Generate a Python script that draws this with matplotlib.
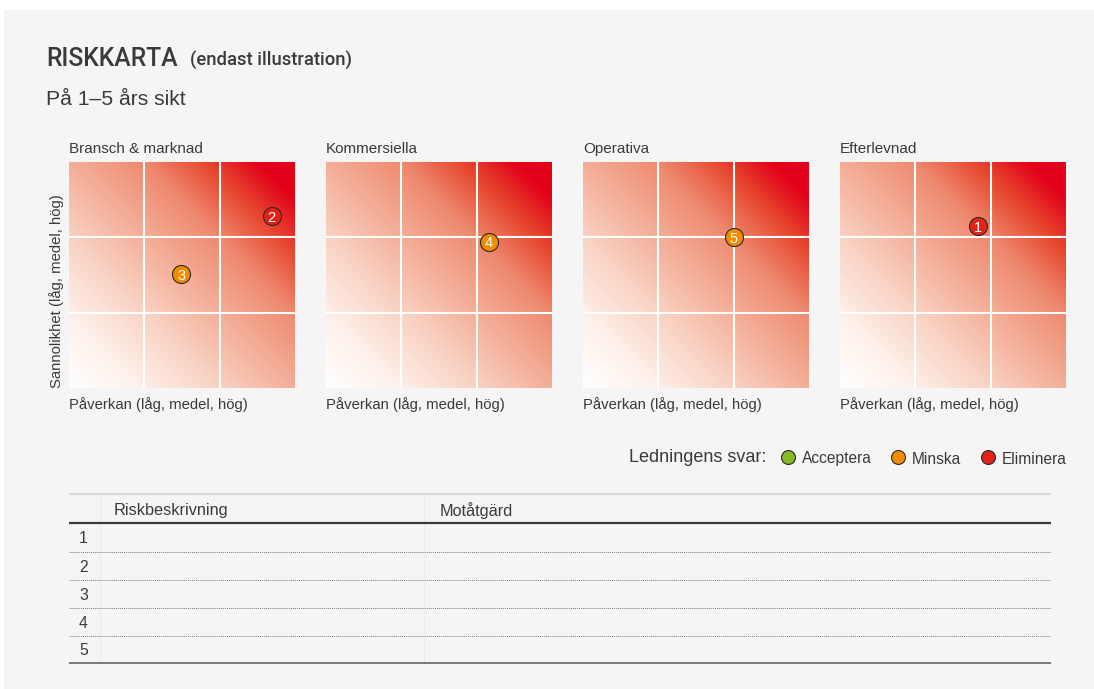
import numpy as np
import matplotlib
matplotlib.use("Agg")
import matplotlib.pyplot as plt
from matplotlib.colors import LinearSegmentedColormap
from matplotlib.patches import Rectangle

plt.rcParams['font.family'] = ['Liberation Sans', 'DejaVu Sans']

W, H = 1094, 689

# ---- texts ----
title = "RISKKARTA"
title_note = "(endast illustration)"
subtitle = "På 1–5 års sikt"
categories = ["Bransch & marknad", "Kommersiella", "Operativa", "Efterlevnad"]
x_label = "Påverkan (låg, medel, hög)"
y_label = "Sannolikhet (låg, medel, hög)"

# ---- risks: id, map, impact (0-3), likelihood (0-3), response ----
risk_ids = [2, 3, 4, 5, 1]
risk_category = [0, 0, 1, 2, 3]
risk_impact = [2.69, 1.49, 2.16, 2.00, 1.83]
risk_likelihood = [2.28, 1.51, 1.94, 2.00, 2.15]
risk_response = ["Eliminera", "Minska", "Minska", "Minska", "Eliminera"]

legend_title = "Ledningens svar:"
response_labels = ["Acceptera", "Minska", "Eliminera"]
response_colors = ["#84b923", "#f08c00", "#e2231a"]

table_headers = ["Riskbeskrivning", "Motåtgärd"]
table_rows = ["1", "2", "3", "4", "5"]

TEXT = "#3a3a3a"
HEAD_FONT = ['Roboto', 'Liberation Sans', 'DejaVu Sans']

fig = plt.figure(figsize=(W / 100, H / 100), dpi=100, facecolor="white")

# background canvas in pixel units
bg = fig.add_axes([0, 0, 1, 1], zorder=0)
bg.set_xlim(0, W)
bg.set_ylim(H, 0)
bg.axis("off")
bg.add_patch(Rectangle((4, 10), W - 4, H - 10, facecolor="#f5f5f5", edgecolor="none"))

# heading
bg.text(46, 66, title, fontsize=17.8, color=TEXT, va="baseline",
        family=HEAD_FONT, weight="medium")
bg.text(190, 66, title_note, fontsize=13.3, color=TEXT, va="baseline",
        family=HEAD_FONT, weight="medium")
bg.text(46, 105, subtitle, fontsize=15.2, color=TEXT, va="baseline")

# risk heat-map colour ramp (white -> salmon -> red)
ramp = LinearSegmentedColormap.from_list(
    "risk",
    [(0.00, "#ffffff"), (0.15, "#fef2ec"), (0.33, "#f9d3c4"),
     (0.50, "#f4ae98"), (0.66, "#ee8a70"), (0.80, "#e7472f"),
     (0.92, "#e2001a"), (1.00, "#e2001a")])
gx, gy = np.meshgrid(np.linspace(0, 3, 300), np.linspace(0, 3, 300))
level = (gx + gy) / 6.0

panel_left = [69, 326, 583, 840]
panel_top, panel_size = 162, 226
resp_color = dict(zip(response_labels, response_colors))

axes = []
for i, cat in enumerate(categories):
    left = panel_left[i]
    ax = fig.add_axes([left / W, 1 - (panel_top + panel_size) / H,
                       panel_size / W, panel_size / H], zorder=2)
    ax.imshow(level, extent=[0, 3, 0, 3], origin="lower", cmap=ramp,
              vmin=0, vmax=1, interpolation="bilinear", aspect="auto")
    for v in (1, 2):
        ax.axvline(v, color="white", lw=1.5)
        ax.axhline(v, color="white", lw=1.5)
    ax.set_xlim(0, 3)
    ax.set_ylim(0, 3)
    ax.set_xticks([])
    ax.set_yticks([])
    for s in ax.spines.values():
        s.set_visible(False)
    axes.append(ax)
    bg.text(left, 149, cat, fontsize=11, color=TEXT, va="center")
    bg.text(left, 405, x_label, fontsize=10.7, color=TEXT, va="center")

bg.text(57, 388, y_label, fontsize=10.7, color=TEXT, rotation=90,
        ha="center", va="bottom")

for rid, c, xi, yi, resp in zip(risk_ids, risk_category, risk_impact,
                                risk_likelihood, risk_response):
    ax = axes[c]
    ax.plot(xi, yi, "o", ms=13, mfc=resp_color[resp], mec="#2a2a2a",
            mew=0.8, zorder=5)
    ax.text(xi, yi, str(rid), color="white", fontsize=10.5, ha="center",
            va="center_baseline", zorder=6)

# legend
bg.text(629, 458, legend_title, fontsize=13, color=TEXT, va="center")
legend_x = [788, 898, 988]
for lx, lab, col in zip(legend_x, response_labels, response_colors):
    bg.plot(lx, 457, "o", ms=10, mfc=col, mec="#2a2a2a", mew=0.8)
    bg.text(lx + 14, 459, lab, fontsize=11.2, color=TEXT, va="center")

# table
tx0, tx1 = 69, 1051
bg.plot([tx0, tx1], [494, 494], color="#d6d6d6", lw=1.6, solid_capstyle="butt")
for vx in (100, 424):
    bg.plot([vx, vx], [494, 663], color="#ebebeb", lw=0.8)
bg.text(114, 511, table_headers[0], fontsize=11.7, color=TEXT, va="center")
bg.text(440, 511, table_headers[1], fontsize=11.7, color=TEXT, va="center")
bg.plot([tx0, tx1], [523, 523], color="#3a3a3a", lw=1.6, solid_capstyle="butt")
row_lines = [552, 580, 608, 636]
for ry in row_lines:
    bg.plot([tx0, tx1], [ry, ry], color="#7a7a7a", lw=0.7, ls=(0, (1, 1)))
bg.plot([tx0, tx1], [663, 663], color="#555555", lw=1.1, solid_capstyle="butt")
row_edges = [523] + row_lines + [663]
for k, lab in enumerate(table_rows):
    yc = (row_edges[k] + row_edges[k + 1]) / 2 + 1
    bg.text(79, yc, lab, fontsize=11.3, color=TEXT, va="center")

fig.savefig("out.png", dpi=100, facecolor="white")
